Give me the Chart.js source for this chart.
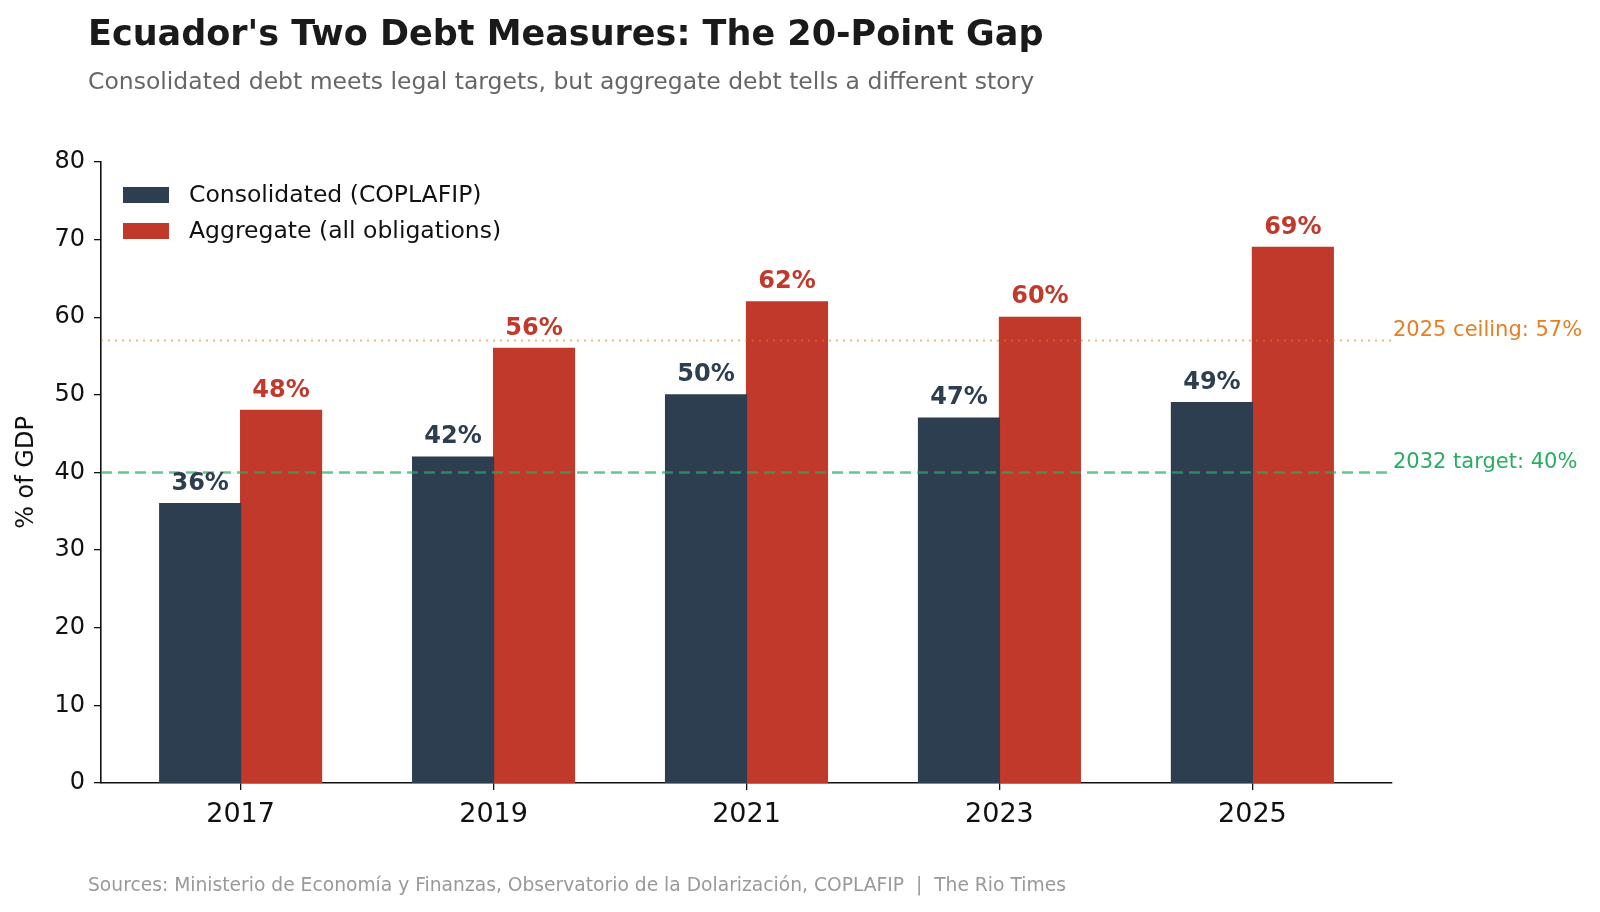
<!DOCTYPE html>
<html>
<head>
<meta charset="utf-8">
<script src="https://cdn.jsdelivr.net/npm/chart.js@4"></script>
<style>
  html, body { margin: 0; padding: 0; background: #fff; }
  #wrap { width: 1600px; height: 912px; }
</style>
</head>
<body>
<div id="wrap"><canvas id="debtChart" width="1600" height="912"></canvas></div>
<script>
// data
const years = ["2017", "2019", "2021", "2023", "2025"];
const consolidated = [36, 42, 50, 47, 49];
const aggregate = [48, 56, 62, 60, 69];
const yTicks = [0, 10, 20, 30, 40, 50, 60, 70, 80];
const ceiling = 57;
const target = 40;

const NAVY = "#2c3e50";
const RED = "#c0392b";
const ORANGE = "#e67e22";
const GREEN = "#27ae60";
const FONT = "'DejaVu Sans', sans-serif";

// titles, legend, labels and reference lines
const decorations = {
  id: "decorations",
  afterDatasetsDraw(chart) {
    const ctx = chart.ctx;
    const y = chart.scales.y;
    const area = chart.chartArea;
    ctx.save();

    // reference lines, on top of the bars
    ctx.lineWidth = 2;
    ctx.strokeStyle = "rgba(230,126,34,0.55)";
    ctx.setLineDash([2, 5]);
    ctx.beginPath();
    ctx.moveTo(area.left, y.getPixelForValue(ceiling));
    ctx.lineTo(area.right, y.getPixelForValue(ceiling));
    ctx.stroke();

    ctx.lineWidth = 2.5;
    ctx.strokeStyle = "rgba(39,174,96,0.7)";
    ctx.setLineDash([11, 6]);
    ctx.beginPath();
    ctx.moveTo(area.left, y.getPixelForValue(target));
    ctx.lineTo(area.right, y.getPixelForValue(target));
    ctx.stroke();
    ctx.setLineDash([]);

    ctx.font = "21px " + FONT;
    ctx.textAlign = "left";
    ctx.textBaseline = "bottom";
    ctx.fillStyle = ORANGE;
    ctx.fillText("2025 ceiling: " + ceiling + "%", area.right + 1, y.getPixelForValue(ceiling) + 1);
    ctx.fillStyle = GREEN;
    ctx.fillText("2032 target: " + target + "%", area.right + 1, y.getPixelForValue(target) + 1);

    // value labels above bars
    ctx.font = "bold 24px " + FONT;
    ctx.textAlign = "center";
    ctx.textBaseline = "bottom";
    chart.data.datasets.forEach((ds, di) => {
      const meta = chart.getDatasetMeta(di);
      ctx.fillStyle = ds.backgroundColor;
      meta.data.forEach((bar, i) => {
        ctx.fillText(ds.data[i].y + "%", bar.x, bar.y - 8);
      });
    });

    // legend inside the plot
    const lx = area.left + 22;
    chart.data.datasets.forEach((ds, di) => {
      const cy = 195 + di * 36;
      ctx.fillStyle = ds.backgroundColor;
      ctx.fillRect(lx, cy - 8, 46, 16);
      ctx.fillStyle = "#111";
      ctx.font = "23.5px " + FONT;
      ctx.textAlign = "left";
      ctx.textBaseline = "middle";
      ctx.fillText(ds.label, lx + 66, cy + 1);
    });

    // title block
    ctx.textAlign = "left";
    ctx.textBaseline = "alphabetic";
    ctx.fillStyle = "#1a1a1a";
    ctx.font = "bold 35px " + FONT;
    ctx.fillText("Ecuador's Two Debt Measures: The 20-Point Gap", 88, 45);
    ctx.fillStyle = "#666";
    ctx.font = "23.5px " + FONT;
    ctx.fillText("Consolidated debt meets legal targets, but aggregate debt tells a different story", 88, 89);

    // footer
    ctx.fillStyle = "#999";
    ctx.font = "18.7px " + FONT;
    ctx.fillText("Sources: Ministerio de Economía y Finanzas, Observatorio de la Dolarización, COPLAFIP  |  The Rio Times", 88, 891);

    // y axis title
    ctx.fillStyle = "#111";
    ctx.font = "24px " + FONT;
    ctx.translate(27, (area.top + area.bottom) / 2);
    ctx.rotate(-Math.PI / 2);
    ctx.textAlign = "center";
    ctx.textBaseline = "middle";
    ctx.fillText("% of GDP", 0, 0);
    ctx.restore();
  }
};

const whiteBg = {
  id: "whiteBg",
  beforeDraw(chart) {
    const ctx = chart.ctx;
    ctx.save();
    ctx.fillStyle = "#fff";
    ctx.fillRect(0, 0, chart.width, chart.height);
    ctx.restore();
  }
};

new Chart(document.getElementById("debtChart"), {
  type: "bar",
  data: {
    datasets: [
      {
        label: "Consolidated (COPLAFIP)",
        data: consolidated.map((v, i) => ({ x: i, y: v })),
        backgroundColor: NAVY,
        inflateAmount: 0.6,
      },
      {
        label: "Aggregate (all obligations)",
        data: aggregate.map((v, i) => ({ x: i, y: v })),
        backgroundColor: RED,
        inflateAmount: 0.6,
      },
    ],
  },
  options: {
    responsive: false,
    animation: false,
    devicePixelRatio: 1,
    layout: { padding: { left: 0, top: 162, right: 208, bottom: 69 } },
    categoryPercentage: 0.64,
    barPercentage: 1.0,
    plugins: {
      legend: { display: false },
      tooltip: { enabled: false },
    },
    scales: {
      x: {
        type: "linear",
        offset: false,
        min: -0.552,
        max: years.length - 1 + 0.552,
        afterBuildTicks: (s) => { s.ticks = years.map((_, i) => ({ value: i })); },
        afterFit: (s) => { s.height = 60; },
        ticks: {
          callback: (v) => years[v],
          color: "#111",
          font: { family: FONT, size: 27 },
          padding: 9,
        },
        grid: {
          offset: false,
          drawOnChartArea: false,
          drawTicks: true,
          tickLength: 7,
          color: "#111",
          lineWidth: 1.3,
        },
        border: { display: true, color: "#111", width: 1.6 },
      },
      y: {
        min: 0,
        max: 80,
        afterBuildTicks: (s) => { s.ticks = yTicks.map((v) => ({ value: v })); },
        afterFit: (s) => { s.width = 101; },
        ticks: {
          color: "#111",
          font: { family: FONT, size: 24 },
          padding: 9,
        },
        grid: {
          drawOnChartArea: false,
          drawTicks: true,
          tickLength: 7,
          color: "#111",
          lineWidth: 1.3,
        },
        border: { display: true, color: "#111", width: 1.6 },
      },
    },
  },
  plugins: [whiteBg, decorations],
});
</script>
</body>
</html>
